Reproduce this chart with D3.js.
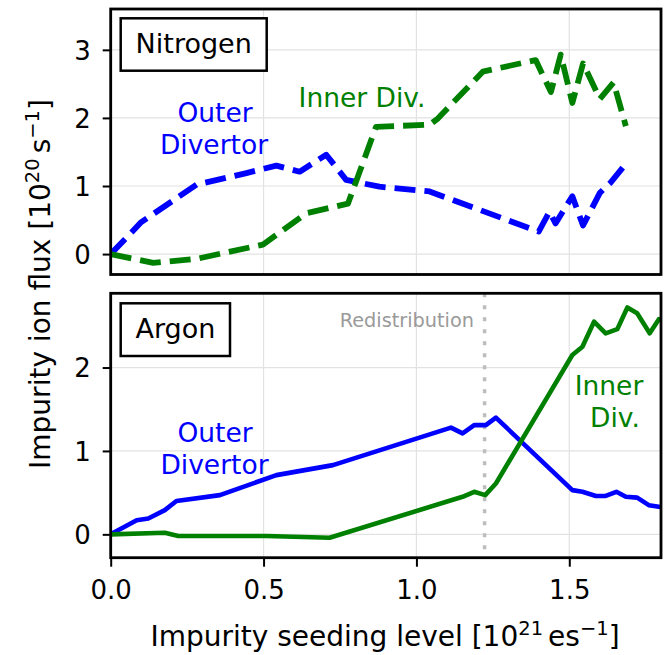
<!DOCTYPE html>
<html>
<head>
<meta charset="utf-8">
<script src="https://cdn.jsdelivr.net/npm/d3@7"></script>
<style>
  html, body { margin: 0; padding: 0; background: #fff; }
  svg { display: block; font-family: "DejaVu Sans", sans-serif; }
</style>
</head>
<body>
<svg id="chart" width="671" height="655"></svg>
<script>
// Seeding level axis
const xTicks = [0, 0.5, 1.0, 1.5];
const xTickLabels = ["0.0", "0.5", "1.0", "1.5"];

// Nitrogen seeding scan
const nitrogenYTicks = [0, 1, 2, 3];
const nitrogenOuterSeed = [0, 0.10, 0.281, 0.30, 0.444, 0.542, 0.618, 0.705, 0.77, 0.879, 1.043, 1.40, 1.435, 1.455, 1.51, 1.545, 1.60, 1.635, 1.675];
const nitrogenOuterFlux = [0, 0.47, 1.02, 1.04, 1.19, 1.30, 1.21, 1.46, 1.09, 0.99, 0.92, 0.33, 0.62, 0.45, 0.85, 0.42, 0.90, 1.05, 1.27];
const nitrogenInnerSeed = [0, 0.139, 0.281, 0.498, 0.64, 0.776, 0.868, 1.043, 1.07, 1.217, 1.39, 1.44, 1.472, 1.51, 1.545, 1.60, 1.645, 1.685];
const nitrogenInnerFlux = [0, -0.13, -0.07, 0.14, 0.60, 0.74, 1.87, 1.90, 1.99, 2.68, 2.85, 2.38, 2.93, 2.22, 2.80, 2.28, 2.52, 1.88];

// Argon seeding scan
const argonYTicks = [0, 1, 2];
const argonOuterSeed = [0, 0.085, 0.123, 0.177, 0.215, 0.357, 0.542, 0.727, 1.113, 1.151, 1.189, 1.227, 1.26, 1.51, 1.543, 1.587, 1.619, 1.654, 1.685, 1.722, 1.76, 1.793];
const argonOuterFlux = [0, 0.17, 0.19, 0.29, 0.40, 0.47, 0.71, 0.83, 1.28, 1.21, 1.31, 1.31, 1.40, 0.53, 0.51, 0.46, 0.46, 0.51, 0.45, 0.44, 0.35, 0.33];
const argonInnerSeed = [0, 0.177, 0.221, 0.509, 0.716, 1.151, 1.189, 1.225, 1.26, 1.51, 1.543, 1.581, 1.619, 1.657, 1.69, 1.722, 1.763, 1.793];
const argonInnerFlux = [0, 0.02, -0.02, -0.02, -0.04, 0.45, 0.51, 0.47, 0.61, 2.15, 2.25, 2.55, 2.41, 2.46, 2.72, 2.65, 2.41, 2.58];

// Seeding level where flux redistributes between divertors
const redistributionSeed = 1.223;

const svg = d3.select("#chart");
const left = 110.7, right = 661;
const x = d3.scaleLinear().domain([0, 1.8]).range([left, right]);

const BLUE = "#0000ff", GREEN = "#008000";
const FONT = 26;

function zip(xs, ys) { return xs.map((v, i) => [v, ys[i]]); }

function panel(opts) {
  const y = d3.scaleLinear().domain(opts.yDomain).range([opts.bottom, opts.top]);
  const g = svg.append("g");
  const clipId = "clip-" + opts.name;
  svg.append("defs").append("clipPath").attr("id", clipId)
    .append("rect").attr("x", left).attr("y", opts.top)
    .attr("width", right - left).attr("height", opts.bottom - opts.top);

  // grid
  const grid = g.append("g");
  grid.selectAll("line.vx").data(xTicks).join("line")
    .attr("x1", d => x(d)).attr("x2", d => x(d))
    .attr("y1", opts.top).attr("y2", opts.bottom)
    .attr("stroke", "#e2e2e2").attr("stroke-width", 1.2);
  grid.selectAll("line.hy").data(opts.yTicks).join("line")
    .attr("x1", left).attr("x2", right)
    .attr("y1", d => y(d)).attr("y2", d => y(d))
    .attr("stroke", "#e2e2e2").attr("stroke-width", 1.2);

  const plot = g.append("g").attr("clip-path", `url(#${clipId})`);
  if (opts.extra) opts.extra(plot, y);

  const line = d3.line().x(d => x(d[0])).y(d => y(d[1]));
  opts.series.forEach(s => {
    plot.append("path")
      .datum(zip(s.xs, s.ys))
      .attr("d", line)
      .attr("fill", "none")
      .attr("stroke", s.color)
      .attr("stroke-width", s.width)
      .attr("stroke-linejoin", "round")
      .attr("stroke-linecap", s.dash ? "butt" : "round")
      .attr("stroke-dasharray", s.dash || null);
  });

  // frame
  g.append("rect").attr("x", left).attr("y", opts.top)
    .attr("width", right - left).attr("height", opts.bottom - opts.top)
    .attr("fill", "none").attr("stroke", "#000").attr("stroke-width", 2.8);

  // y axis
  const yAxis = d3.axisLeft(y).tickValues(opts.yTicks).tickFormat(d3.format("d"))
    .tickSize(8).tickPadding(12);
  const ya = g.append("g").attr("transform", `translate(${left},0)`).call(yAxis);
  ya.select(".domain").remove();
  ya.selectAll(".tick line").attr("stroke", "#000").attr("stroke-width", 2);
  ya.selectAll(".tick text").attr("font-size", FONT).attr("fill", "#000")
    .attr("font-family", "DejaVu Sans").attr("dy", "0.36em");

  if (opts.showX) {
    const xAxis = d3.axisBottom(x).tickValues(xTicks)
      .tickFormat((d, i) => xTickLabels[i]).tickSize(9).tickPadding(8);
    const xa = g.append("g").attr("transform", `translate(0,${opts.bottom})`).call(xAxis);
    xa.select(".domain").remove();
    xa.selectAll(".tick line").attr("stroke", "#000").attr("stroke-width", 2);
    xa.selectAll(".tick text").attr("font-size", FONT).attr("fill", "#000")
      .attr("font-family", "DejaVu Sans").attr("dy", "0.92em");
  }

  // element label box
  g.append("rect").attr("x", opts.box[0]).attr("y", opts.box[1])
    .attr("width", opts.box[2]).attr("height", opts.box[3])
    .attr("fill", "#fff").attr("stroke", "#000").attr("stroke-width", 2.5);
  g.append("text").attr("x", opts.box[0] + opts.box[2] / 2).attr("y", opts.boxBaseline)
    .attr("text-anchor", "middle").attr("font-size", FONT + 1).attr("fill", "#000")
    .text(opts.name);

  opts.notes.forEach(n => {
    g.append("text").attr("x", n.x).attr("y", n.y).attr("text-anchor", "middle")
      .attr("font-size", FONT + 0.5).attr("fill", n.color).text(n.text);
  });
  return y;
}

panel({
  name: "Nitrogen",
  top: 9, bottom: 274.5, yDomain: [-0.3, 3.6], yTicks: nitrogenYTicks, showX: false,
  series: [
    { xs: nitrogenOuterSeed, ys: nitrogenOuterFlux, color: BLUE, width: 5.8, dash: "21,9" },
    { xs: nitrogenInnerSeed, ys: nitrogenInnerFlux, color: GREEN, width: 5.8, dash: "21,9" }
  ],
  box: [120.7, 18.3, 146, 52.4], boxBaseline: 53,
  notes: [
    { text: "Outer", x: 215, y: 122, color: BLUE },
    { text: "Divertor", x: 214, y: 153.5, color: BLUE },
    { text: "Inner Div.", x: 362, y: 107, color: GREEN }
  ]
});

panel({
  name: "Argon",
  top: 293.3, bottom: 557.7, yDomain: [-0.28, 2.89], yTicks: argonYTicks, showX: true,
  series: [
    { xs: argonOuterSeed, ys: argonOuterFlux, color: BLUE, width: 4.6 },
    { xs: argonInnerSeed, ys: argonInnerFlux, color: GREEN, width: 4.6 }
  ],
  extra: (plot, y) => {
    plot.append("line")
      .attr("x1", x(redistributionSeed)).attr("x2", x(redistributionSeed))
      .attr("y1", 293.3).attr("y2", 557.7)
      .attr("stroke", "#bdbdbd").attr("stroke-width", 3.5)
      .attr("stroke-dasharray", "4,8");
  },
  box: [120.7, 303.3, 109.3, 52.7], boxBaseline: 338,
  notes: [
    { text: "Outer", x: 215, y: 442, color: BLUE },
    { text: "Divertor", x: 214.5, y: 473.5, color: BLUE },
    { text: "Inner", x: 609, y: 395, color: GREEN },
    { text: "Div.", x: 615, y: 427, color: GREEN }
  ]
});

// redistribution marker label
svg.append("text").attr("x", 474).attr("y", 327)
  .attr("text-anchor", "end").attr("font-size", 19.3).attr("fill", "#9a9a9a")
  .text("Redistribution");

// axis titles
const xl = svg.append("text").attr("x", 385).attr("y", 646)
  .attr("text-anchor", "middle").attr("font-size", 28).attr("fill", "#000");
xl.append("tspan").text("Impurity seeding level [10");
xl.append("tspan").attr("dy", -11).attr("font-size", 19.5).text("21");
xl.append("tspan").attr("dy", 11).attr("dx", 5).text("es");
xl.append("tspan").attr("dy", -11).attr("font-size", 19.5).text("\u22121");
xl.append("tspan").attr("dy", 11).text("]");

const yl = svg.append("text").attr("transform", "translate(50,284) rotate(-90)")
  .attr("text-anchor", "middle").attr("font-size", 28).attr("fill", "#000");
yl.append("tspan").text("Impurity ion flux [10");
yl.append("tspan").attr("dy", -11).attr("font-size", 19.5).text("20");
yl.append("tspan").attr("dy", 11).attr("dx", 5).text("s");
yl.append("tspan").attr("dy", -11).attr("font-size", 19.5).text("\u22121");
yl.append("tspan").attr("dy", 11).text("]");
</script>
</body>
</html>
